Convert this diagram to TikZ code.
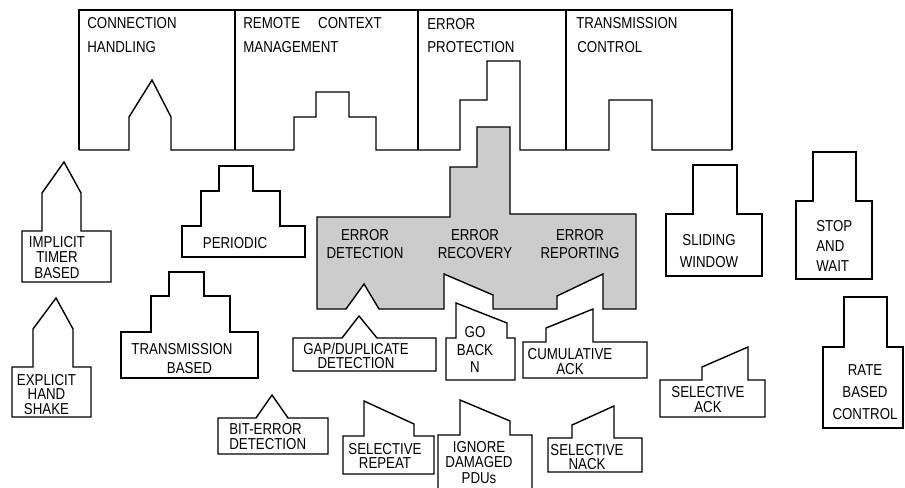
\documentclass[tikz,border=0pt]{standalone}
\usepackage{fontspec}
\setmainfont[FakeStretch=0.84]{Liberation Sans}
\usepackage{xcolor}
\usepackage{tikz}
\usetikzlibrary{calc,positioning}

\definecolor{vakgrijs}{gray}{0.8}
\tikzset{
    vorm/.style={line width=0.8pt, line join=miter},
    tekst/.style={inner sep=0pt, align=center, font=\fontsize{9}{#1}\selectfont},
    tekst/.default=8.5
}

\begin{document}
\begin{tikzpicture}[x=0.02cm,y=-0.02cm]

    \useasboundingbox (0,0) rectangle (905,487);
    \clip (0,0) rectangle (905,487);

    % Bovenste blok
    \draw[vorm] (79,150) -- (79,10) -- (732,10) -- (732,150);
    \foreach \x in {235,418,566} {
        \draw[vorm] (\x,10) -- (\x,150);
    }
    \draw[vorm] (79,150) -- (129,150) -- (129,117) -- (152,80) -- (171,117) -- (171,150)
        -- (294,150) -- (294,117) -- (316,117) -- (316,92) -- (349,92) -- (349,117)
        -- (376,117) -- (376,150) -- (460,150) -- (460,100) -- (487,100) -- (487,61)
        -- (520,61) -- (520,150) -- (609,150) -- (609,100) -- (652,100) -- (652,150)
        -- (732,150);

    \node[tekst, anchor=west] (conn1) at (87,23) {CONNECTION};
    \node[tekst, anchor=west] (conn2) at (87,47) {HANDLING};
    \node[tekst, anchor=west] (rem1) at (243,23) {REMOTE\hspace{0.36cm}CONTEXT};
    \node[tekst, anchor=west] (rem2) at (243,47) {MANAGEMENT};
    \node[tekst, anchor=west] (prot1) at (427,24) {ERROR};
    \node[tekst, anchor=west] (prot2) at (427,47) {PROTECTION};
    \node[tekst, anchor=west] (tx1) at (576,23) {TRANSMISSION};
    \node[tekst, anchor=west] (tx2) at (577,47) {CONTROL};

    % Grijs: foutafhandeling
    \draw[vorm, fill=vakgrijs] (317,309) -- (317,217) -- (450,217) -- (450,167) -- (477,167)
        -- (477,127) -- (510,127) -- (510,214) -- (636,214) -- (636,309) -- (603,309)
        -- (603,274) -- (557,296) -- (557,309) -- (493,309) -- (493,295) -- (444,274)
        -- (444,309) -- (379,309) -- (364,284) -- (346,309) -- cycle;
    \node[tekst=10.2] (errdet) at (365,244) {ERROR\\DETECTION};
    \node[tekst=10.2] (errrec) at (475,244) {ERROR\\RECOVERY};
    \node[tekst=10.2] (errrep) at (580,244) {ERROR\\REPORTING};

    % Verbinding
    \draw[vorm] (22,282) -- (22,231) -- (42,231) -- (42,193) -- (64,162) -- (81,193)
        -- (81,231) -- (111,231) -- (111,282) -- cycle;
    \node[tekst=8.8] (implicit) at (57,257.5) {IMPLICIT\\TIMER\\BASED};
    \draw[vorm] (12,417) -- (12,367) -- (33,367) -- (33,329) -- (56,298) -- (73,329)
        -- (73,367) -- (91,367) -- (91,417) -- cycle;
    \node[tekst=8.2] (explicit) at (46.5,394.5) {EXPLICIT\\HAND\\SHAKE};

    % Context
    \draw[vorm] (182,257) -- (182,226) -- (201,226) -- (201,191) -- (219,191) -- (219,166)
        -- (253,166) -- (253,191) -- (280,191) -- (280,226) -- (305,226) -- (305,257) -- cycle;
    \node[tekst] (periodic) at (235,243) {PERIODIC};
    \draw[vorm] (121,378) -- (121,332) -- (151,332) -- (151,296) -- (169,296) -- (169,272)
        -- (204,272) -- (204,296) -- (230,296) -- (230,332) -- (258,332) -- (258,378) -- cycle;
    \node[tekst=10.8] (transbased) at (182,358.5) {TRANSMISSION\\\hspace*{0.3cm}BASED};

    % Detectie
    \draw[vorm] (218,454) -- (218,418) -- (256,418) -- (272,395) -- (288,418) -- (328,418)
        -- (328,454) -- cycle;
    \node[tekst, align=left, anchor=west] (biterror) at (229,436.5) {BIT-ERROR\\DETECTION};
    \draw[vorm] (293,371) -- (293,338) -- (342,338) -- (359,316) -- (377,338) -- (436,338)
        -- (436,371) -- cycle;
    \node[tekst=8] (gapdup) at (356,356) {GAP/DUPLICATE\\DETECTION};

    % Herstel
    \draw[vorm] (446,380) -- (446,338) -- (456,338) -- (456,303) -- (507,323) -- (507,338)
        -- (515,338) -- (515,380) -- cycle;
    \node[tekst=10] (gobackn) at (475,349.5) {GO\\BACK\\N};
    \draw[vorm] (343,474) -- (343,436) -- (364,436) -- (364,401) -- (414,424) -- (414,436)
        -- (434,436) -- (434,474) -- cycle;
    \node[tekst=8] (selrep) at (385,456) {SELECTIVE\\REPEAT};
    \draw[vorm] (438,492) -- (438,435) -- (460,435) -- (460,400) -- (510,421) -- (510,435)
        -- (532,435) -- (532,492);
    \node[tekst=8.8] (ignore) at (479,462.5) {IGNORE\\DAMAGED\\PDUs};

    % Melding
    \draw[vorm] (523,378) -- (523,342) -- (546,342) -- (546,328) -- (593,309) -- (593,342)
        -- (647,342) -- (647,378) -- cycle;
    \node[tekst] (cumack) at (570,361.5) {CUMULATIVE\\ACK};
    \draw[vorm] (548,472) -- (548,438) -- (572,438) -- (572,425) -- (614,406) -- (614,438)
        -- (642,438) -- (642,472) -- cycle;
    \node[tekst=8] (selnack) at (587,457) {SELECTIVE\\NACK};
    \draw[vorm] (660,417) -- (660,380) -- (702,380) -- (702,367) -- (748,347) -- (748,380)
        -- (765,380) -- (765,417) -- cycle;
    \node[tekst] (selack) at (708,399.5) {SELECTIVE\\ACK};

    % Transmissie
    \draw[vorm] (666,276) -- (666,214) -- (693,214) -- (693,165) -- (737,165) -- (737,214)
        -- (762,214) -- (762,276) -- cycle;
    \node[tekst=12.5] (sliding) at (709,251) {SLIDING\\WINDOW};
    \draw[vorm] (796,279) -- (796,201) -- (813,201) -- (813,152) -- (856,152) -- (856,201)
        -- (872,201) -- (872,279) -- cycle;
    \node[tekst=11.4, align=left, anchor=west] (stopwait) at (816,246) {STOP\\AND\\WAIT};
    \draw[vorm] (823,428) -- (823,347) -- (844,347) -- (844,297) -- (887,297) -- (887,347)
        -- (903,347) -- (903,428) -- cycle;
    \node[tekst=12.5] (ratebased) at (865,392) {RATE\\BASED\\CONTROL};

\end{tikzpicture}
\end{document}
